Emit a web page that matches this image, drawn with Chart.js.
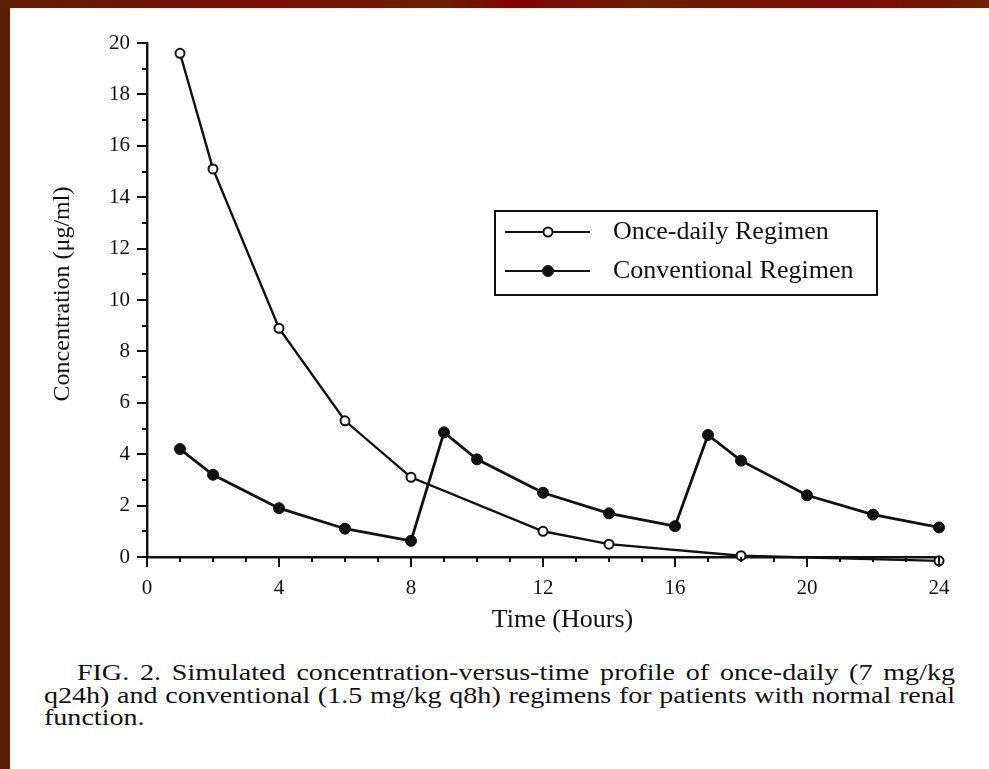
<!DOCTYPE html>
<html>
<head>
<meta charset="utf-8">
<script src="https://cdn.jsdelivr.net/npm/chart.js@4.4.1/dist/chart.umd.min.js"></script>
<style>
  html, body { margin:0; padding:0; }
  body { width:989px; height:769px; position:relative; overflow:hidden;
    background:#5a1e02; font-family:'Liberation Serif','Times New Roman',serif; }
  #topbar { position:absolute; left:0; top:0; width:989px; height:8px;
    background:linear-gradient(90deg,#5e1f02 0%,#7a0c02 25%,#6a2002 45%,#800202 52%,#6a2002 65%,#7e0a02 85%,#6a2002 100%); }
  #panel { position:absolute; left:10px; top:8px; right:0; bottom:0; background:#fff; }
  #wrap { position:absolute; left:0; top:0; width:989px; height:640px; }
  #caption { position:absolute; left:44px; top:662px; width:911px; color:#111;
    font-size:23px; line-height:22.5px; transform-origin:0 0; }
  #caption div { white-space:nowrap; text-align:justify; text-align-last:justify; }
  #caption div.first { text-indent:27px; }
  #caption div.last { text-align-last:left; }
</style>
</head>
<body>
<div id="topbar"></div>
<div id="panel"></div>
<div id="wrap"><canvas id="chart" width="989" height="640"></canvas></div>
<div id="caption">
  <div class="first">FIG. 2. Simulated concentration-versus-time profile of once-daily (7 mg/kg</div>
  <div>q24h) and conventional (1.5 mg/kg q8h) regimens for patients with normal renal</div>
  <div class="last">function.</div>
</div>
<script>
// values
const onceHours = [1, 2, 4, 6, 8, 12, 14, 18, 24];
const onceConc  = [19.6, 15.1, 8.9, 5.3, 3.1, 1.0, 0.5, 0.05, -0.15];
const convHours = [1, 2, 4, 6, 8, 9, 10, 12, 14, 16, 17, 18, 20, 22, 24];
const convConc  = [4.2, 3.2, 1.9, 1.1, 0.63, 4.85, 3.8, 2.5, 1.7, 1.2, 4.75, 3.75, 2.4, 1.65, 1.15];
const seriesNames = ['Once-daily Regimen', 'Conventional Regimen'];
const xTicks = [0, 4, 8, 12, 16, 20, 24];
const yTicks = [0, 2, 4, 6, 8, 10, 12, 14, 16, 18, 20];

const INK = '#111';
const FONT = "'Liberation Serif','Times New Roman',serif";

const toPoints = (xs, ys) => xs.map((x, i) => ({ x, y: ys[i] }));

// caption: the scanned type is wider than Liberation Serif, stretch it to fill the line
(() => {
  const cap = document.getElementById('caption');
  const lines = [...cap.querySelectorAll('div')].slice(0, 2);
  const mctx = document.createElement('canvas').getContext('2d');
  mctx.font = '23px ' + FONT;
  let s = Infinity;
  lines.forEach((d, i) => {
    const w = mctx.measureText(d.textContent.trim()).width + (i === 0 ? 27 : 0);
    s = Math.min(s, 911 / (w + 6));
  });
  cap.style.width = (911 / s) + 'px';
  cap.style.transform = `scaleX(${s})`;
})();

// tick marks: major with labels, minor in between
const tickMarks = {
  id: 'tickMarks',
  afterDraw(chart) {
    const { ctx, scales: { x, y } } = chart;
    ctx.save();
    ctx.strokeStyle = INK;
    ctx.lineWidth = 2;
    ctx.beginPath();
    for (let v = 0; v <= 24; v++) {
      const px = Math.round(x.getPixelForValue(v));
      const len = xTicks.includes(v) ? 10 : 5;
      ctx.moveTo(px, y.bottom); ctx.lineTo(px, y.bottom + len);
    }
    for (let v = 0; v <= 20; v++) {
      const py = Math.round(y.getPixelForValue(v));
      const len = yTicks.includes(v) ? 10 : 5;
      ctx.moveTo(x.left, py); ctx.lineTo(x.left - len, py);
    }
    ctx.stroke();
    ctx.restore();
  }
};

// boxed legend inside the plot
const boxLegend = {
  id: 'boxLegend',
  afterDraw(chart) {
    const { ctx } = chart;
    const box = { l: 495, t: 211, r: 877, b: 295 };
    ctx.save();
    ctx.strokeStyle = INK;
    ctx.lineWidth = 2;
    ctx.strokeRect(box.l, box.t, box.r - box.l, box.b - box.t);
    ctx.font = '26px ' + FONT;
    ctx.textBaseline = 'middle';
    chart.data.datasets.forEach((ds, i) => {
      const cy = 232 + i * 39;
      ctx.lineWidth = 2;
      ctx.beginPath(); ctx.moveTo(505, cy); ctx.lineTo(590, cy); ctx.stroke();
      ctx.beginPath();
      ctx.arc(548, cy, ds.pointRadius, 0, Math.PI * 2);
      ctx.fillStyle = ds.pointBackgroundColor; ctx.fill();
      ctx.lineWidth = ds.pointBorderWidth; ctx.stroke();
      ctx.fillStyle = INK;
      ctx.fillText(ds.label, 613, cy);
    });
    ctx.restore();
  }
};

new Chart(document.getElementById('chart'), {
  type: 'line',
  data: {
    datasets: [
      { label: seriesNames[0], data: toPoints(onceHours, onceConc),
        borderColor: INK, borderWidth: 2.4, pointRadius: 4.5, pointBorderWidth: 2,
        pointBackgroundColor: '#fff', pointBorderColor: INK, clip: false },
      { label: seriesNames[1], data: toPoints(convHours, convConc),
        borderColor: INK, borderWidth: 2.8, pointRadius: 5.5, pointBorderWidth: 1,
        pointBackgroundColor: INK, pointBorderColor: INK, clip: false },
    ]
  },
  options: {
    responsive: false, animation: false, devicePixelRatio: 1,
    layout: { padding: { left: 0, top: 43, right: 50, bottom: 0 } },
    plugins: { legend: { display: false }, tooltip: { enabled: false } },
    scales: {
      x: {
        type: 'linear', min: 0, max: 24,
        afterBuildTicks: s => { s.ticks = xTicks.map(v => ({ value: v })); },
        afterFit: s => { s.height = 83; },
        grid: { display: false, drawTicks: true, tickLength: 10 },
        border: { display: true, color: INK, width: 2.4 },
        ticks: { color: INK, padding: 9, font: { family: FONT, size: 21 }, maxRotation: 0 },
        title: { display: true, text: '\u2003\u2002Time (Hours)', color: INK,
          font: { family: FONT, size: 26 }, padding: { top: 0, bottom: 4 } }
      },
      y: {
        min: 0, max: 20,
        afterBuildTicks: s => { s.ticks = yTicks.map(v => ({ value: v })); },
        afterFit: s => { s.width = 147; },
        grid: { display: false, drawTicks: true, tickLength: 10 },
        border: { display: true, color: INK, width: 2.4 },
        ticks: { color: INK, padding: 7, font: { family: FONT, size: 21 } },
        title: { display: true, text: '\u2002Concentration (μg/ml)', color: INK,
          font: { family: FONT, size: 24 }, padding: { top: 48, bottom: 0 } }
      }
    }
  },
  plugins: [tickMarks, boxLegend]
});
</script>
</body>
</html>
